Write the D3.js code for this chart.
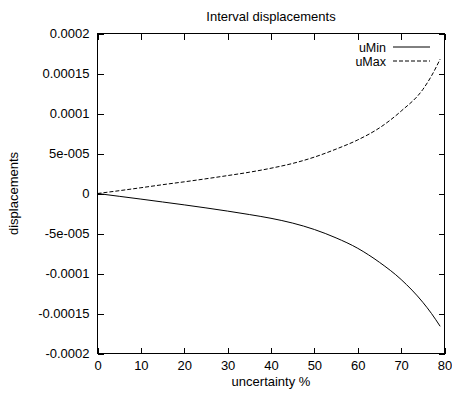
<!DOCTYPE html>
<html>
<head>
<meta charset="utf-8">
<script src="https://cdn.jsdelivr.net/npm/d3@7"></script>
<style>
  body { margin: 0; background: #fff; }
  svg text { font-family: "Liberation Sans", Arial, sans-serif; font-size: 13px; fill: #000; }
</style>
</head>
<body>
<div id="chart"></div>
<script>
// Values
const uncertainty = [0, 5, 10, 15, 20, 25, 30, 35, 40, 45, 50, 55, 60, 65, 70, 75, 77, 79];
const uMin = [0, -3.5e-6, -7e-6, -1.06e-5, -1.42e-5, -1.8e-5, -2.2e-5, -2.63e-5, -3.1e-5, -3.7e-5,
              -4.5e-5, -5.55e-5, -6.85e-5, -8.6e-5, -1.075e-4, -1.36e-4, -1.5e-4, -1.66e-4];
const uMax = [0, 3.5e-6, 7.2e-6, 1.1e-5, 1.46e-5, 1.84e-5, 2.24e-5, 2.66e-5, 3.16e-5, 3.76e-5,
              4.55e-5, 5.55e-5, 6.7e-5, 8.2e-5, 1.03e-4, 1.3e-4, 1.47e-4, 1.68e-4];

const xTicks = [0, 10, 20, 30, 40, 50, 60, 70, 80];
const yTicks = [0.0002, 0.00015, 0.0001, 5e-5, 0, -5e-5, -0.0001, -0.00015, -0.0002];
const yTickLabels = ['0.0002', '0.00015', '0.0001', '5e-005', '0', '-5e-005', '-0.0001', '-0.00015', '-0.0002'];

const width = 452, height = 396;
const plotLeft = 97.5, plotRight = 444.5, plotTop = 33.5, plotBottom = 353.5;

const svg = d3.select('#chart').append('svg')
    .attr('width', width)
    .attr('height', height);

const x = d3.scaleLinear().domain([0, 80]).range([plotLeft, plotRight]);
const y = d3.scaleLinear().domain([-0.0002, 0.0002]).range([plotBottom, plotTop]);

// axes with inward ticks, mirrored on top and right
function styleAxis(g) {
    g.select('.domain').remove();
    g.selectAll('.tick line').attr('stroke', '#000').attr('shape-rendering', 'crispEdges');
    g.selectAll('.tick text').style('font-size', '13px');
}

svg.append('g')
    .attr('transform', `translate(0,${plotBottom})`)
    .call(d3.axisBottom(x).tickValues(xTicks).tickSizeInner(-6).tickPadding(7))
    .call(styleAxis);

svg.append('g')
    .attr('transform', `translate(0,${plotTop})`)
    .call(d3.axisTop(x).tickValues(xTicks).tickSizeInner(-6).tickFormat(''))
    .call(styleAxis);

svg.append('g')
    .attr('transform', `translate(${plotLeft},0)`)
    .call(d3.axisLeft(y).tickValues(yTicks).tickSizeInner(-6).tickPadding(8)
        .tickFormat((d, i) => yTickLabels[i]))
    .call(styleAxis);

svg.append('g')
    .attr('transform', `translate(${plotRight},0)`)
    .call(d3.axisRight(y).tickValues(yTicks).tickSizeInner(-6).tickFormat(''))
    .call(styleAxis);

// frame
svg.append('rect')
    .attr('x', plotLeft).attr('y', plotTop)
    .attr('width', plotRight - plotLeft).attr('height', plotBottom - plotTop)
    .attr('fill', 'none').attr('stroke', '#000').attr('stroke-width', 1)
    .attr('shape-rendering', 'crispEdges');

const line = d3.line()
    .x((d, i) => x(uncertainty[i]))
    .y(d => y(d))
    .curve(d3.curveMonotoneX);

svg.append('path')
    .attr('d', line(uMin))
    .attr('fill', 'none').attr('stroke', '#000').attr('stroke-width', 1);

svg.append('path')
    .attr('d', line(uMax))
    .attr('fill', 'none').attr('stroke', '#000').attr('stroke-width', 1)
    .attr('stroke-dasharray', '4,2');

// titles
svg.append('text')
    .attr('x', (plotLeft + plotRight) / 2).attr('y', 21)
    .attr('text-anchor', 'middle')
    .text('Interval displacements');

svg.append('text')
    .attr('x', (plotLeft + plotRight) / 2).attr('y', 386)
    .attr('text-anchor', 'middle')
    .text('uncertainty %');

svg.append('text')
    .attr('transform', `translate(18,${(plotTop + plotBottom) / 2}) rotate(-90)`)
    .attr('text-anchor', 'middle')
    .text('displacements');

// legend
const legend = [
    { name: 'uMin', dash: null },
    { name: 'uMax', dash: '4,2' }
];
legend.forEach((item, i) => {
    const ly = 47 + i * 14;
    svg.append('text')
        .attr('x', 386).attr('y', ly + 4.5)
        .attr('text-anchor', 'end')
        .style('font-size', '12.5px')
        .text(item.name);
    svg.append('line')
        .attr('x1', 393).attr('x2', 430)
        .attr('y1', ly).attr('y2', ly)
        .attr('stroke', '#000').attr('stroke-width', 1)
        .attr('stroke-dasharray', item.dash);
});
</script>
</body>
</html>
